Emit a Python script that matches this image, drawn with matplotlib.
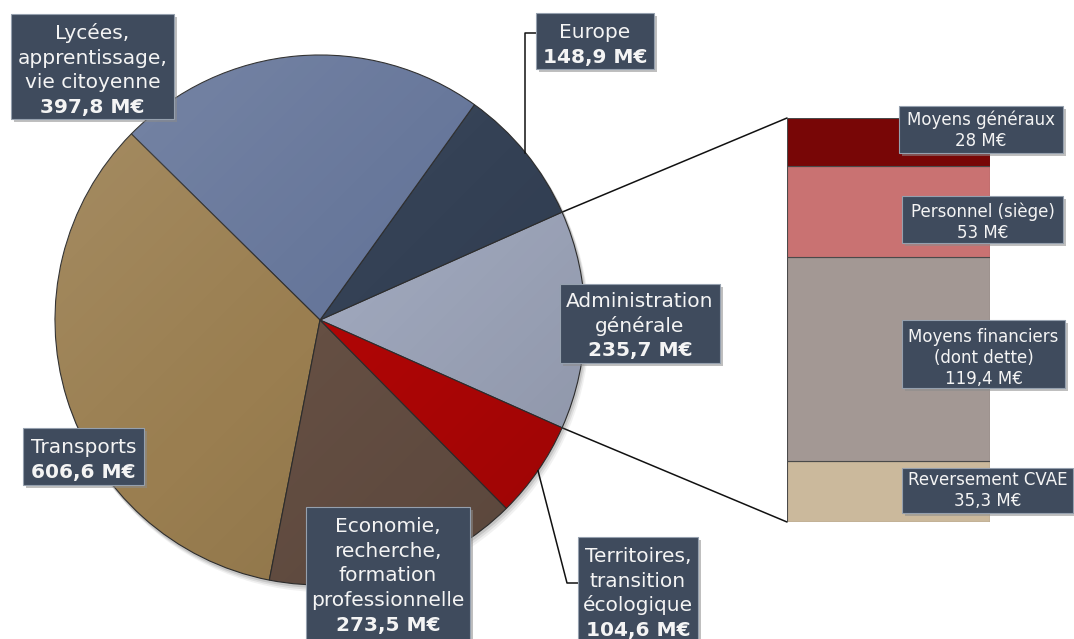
import numpy as np
import matplotlib.pyplot as plt
from matplotlib.patches import Rectangle, ConnectionPatch

# ---- data (M€) ----
pie_names = [["Administration", "générale"],
             ["Europe"],
             ["Lycées,", "apprentissage,", "vie citoyenne"],
             ["Transports"],
             ["Economie,", "recherche,", "formation", "professionnelle"],
             ["Territoires,", "transition", "écologique"]]
pie_values = [235.7, 148.9, 397.8, 606.6, 273.5, 104.6]
pie_colors = ['#9ea6bb', '#344155', '#66769a', '#9a7e50', '#654f43', '#b00606']

# detail of "Administration générale", bottom to top
bar_names = [["Reversement CVAE"],
             ["Moyens financiers", "(dont dette)"],
             ["Personnel (siège)"],
             ["Moyens généraux"]]
bar_values = [35.3, 119.4, 53, 28]
bar_colors = ['#cbb99c', '#a39894', '#c97272', '#780606']


def fmt(v):
    if float(v).is_integer():
        return '%d M€' % v
    return ('%.1f' % v).replace('.', ',') + ' M€'


# ---- layout (pixels) ----
W, H = 1074, 639
cx, cy, R = 320, 320, 265
start = -24  # screen angle where the first slice starts

pie_boxes = [(560, 284, 720, 363), (536, 13, 654, 69), (11, 14, 174, 119),
             (23, 428, 144, 485), (306, 507, 470, 650), (578, 537, 698, 650)]
pie_base = [307, 38, 39, 453, 532, 562]
bar_boxes = [(902, 468, 1073, 513), (902, 320, 1065, 388),
             (902, 196, 1063, 243), (899, 106, 1063, 153)]
bar_base = [485, 342, 217, 125]
bar_rect = (787, 118, 990, 522)

box_face = '#3f4b5d'
box_edge = '#95a0ae'
txt_col = '#f4f4f4'

fig = plt.figure(figsize=(W / 100, H / 100), dpi=100)
ax = fig.add_axes([0, 0, 1, 1])

# soft shadow of the pie
for k, a in [(6, 0.08), (4, 0.12), (2, 0.18)]:
    ax.add_patch(plt.Circle((cx + k * 0.6, cy + k), R + 1, color='#555555',
                            alpha=a, lw=0, zorder=0))

# y axis is inverted below, so clockwise in data = counter clockwise on screen
ax.pie(pie_values, colors=pie_colors, startangle=-start, counterclock=False,
       center=(cx, cy), radius=R,
       wedgeprops=dict(edgecolor='#2e2e2e', linewidth=0.8))

# light sheen over the pie (lighter top left, darker bottom right)
gx, gy = np.meshgrid(np.linspace(-1, 1, 200), np.linspace(-1, 1, 200))
g = (gx + gy) / 2
sheen = np.zeros((200, 200, 4))
sheen[..., :3] = np.where(g[..., None] < 0, 1.0, 0.0)
sheen[..., 3] = np.abs(g) * 0.12
im = ax.imshow(sheen, extent=(cx - R, cx + R, cy + R, cy - R), zorder=1.5,
               interpolation='bilinear')
im.set_clip_path(plt.Circle((cx, cy), R, transform=ax.transData))

ax.set_xlim(0, W)
ax.set_ylim(H, 0)
ax.set_aspect('auto')
ax.axis('off')

# slice angles (screen degrees)
total = sum(pie_values)
edges = start + 360 * np.concatenate([[0], np.cumsum(pie_values)]) / total
mids = (edges[:-1] + edges[1:]) / 2


def on_arc(deg):
    t = np.radians(deg)
    return cx + R * np.cos(t), cy - R * np.sin(t)


def label(box, base, lines, value, size, step, bold_last=True):
    x0, y0, x1, y1 = box
    ax.add_patch(Rectangle((x0 + 3, y0 + 3), x1 - x0, y1 - y0, color='#8c8c8c',
                           alpha=0.55, lw=0, zorder=5))
    ax.add_patch(Rectangle((x0, y0), x1 - x0, y1 - y0, facecolor=box_face,
                           edgecolor=box_edge, lw=0.8, zorder=6))
    xm = (x0 + x1) / 2
    allines = lines + [fmt(value)]
    for i, s in enumerate(allines):
        w = 'bold' if (bold_last and i == len(allines) - 1) else 'normal'
        ax.text(xm, base + i * step, s, ha='center', va='baseline',
                fontsize=size, color=txt_col, fontweight=w, zorder=7,
                family='DejaVu Sans')


for i in range(len(pie_values)):
    label(pie_boxes[i], pie_base[i], pie_names[i], pie_values[i], 14.5, 24.7)

# leader lines
ex, ey = on_arc(mids[1])
ax.plot([ex, ex, pie_boxes[1][0]], [ey, 33, 33], color='#111111', lw=1.1, zorder=4)
tx, ty = on_arc(mids[5])
ax.plot([tx, 567, pie_boxes[5][0]], [ty, 583, 583], color='#111111', lw=1.1, zorder=4)

# ---- stacked bar for the administration detail ----
bx0, by0, bx1, by1 = bar_rect
ax2 = fig.add_axes([bx0 / W, 1 - by1 / H, (bx1 - bx0) / W, (by1 - by0) / H])
bottoms = np.concatenate([[0], np.cumsum(bar_values)[:-1]])
ax2.bar(0, bar_values, bottom=bottoms, width=1, color=bar_colors,
        edgecolor='#4a4a4a', linewidth=0.8)
ax2.set_xlim(-0.5, 0.5)
ax2.set_ylim(0, sum(bar_values))
ax2.axis('off')
ax2.set_zorder(1)
ax.set_zorder(2)
ax.patch.set_visible(False)

p_top = on_arc(edges[1])
p_bot = on_arc(edges[0])
for p, yb in [(p_top, sum(bar_values)), (p_bot, 0)]:
    con = ConnectionPatch(xyA=p, coordsA=ax.transData, xyB=(-0.5, yb),
                          coordsB=ax2.transData, color='#111111', lw=1.1)
    fig.add_artist(con)

for i in range(len(bar_values)):
    label(bar_boxes[i], bar_base[i], bar_names[i], bar_values[i], 12, 21,
          bold_last=False)

fig.savefig('out.png', dpi=100)
